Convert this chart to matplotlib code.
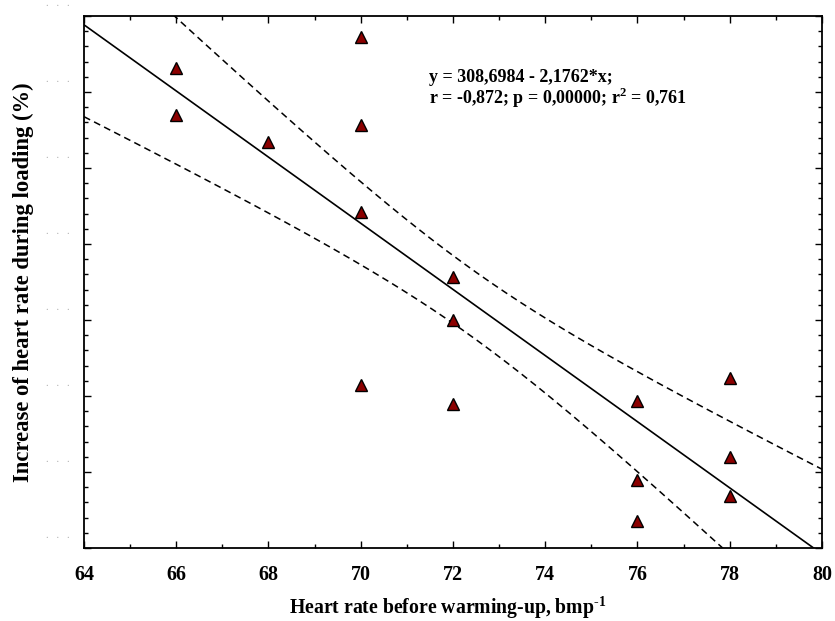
import numpy as np
import matplotlib
matplotlib.use("Agg")
import matplotlib.pyplot as plt
from matplotlib.ticker import MultipleLocator
from matplotlib.transforms import ScaledTranslation

# ---------- data ----------
hr_before = [66, 66, 68, 70, 70, 70, 70, 72, 72, 72, 76, 76, 76, 78, 78, 78]
hr_increase = [166.6, 163.5, 161.7, 168.6, 162.8, 157.1, 145.7,
               152.8, 150.0, 144.5, 144.7, 139.5, 136.8, 146.2, 141.0, 138.4]

# regression as reported by the stats package
intercept = 308.6984
slope = -2.1762
eq_text = "y = 308,6984 - 2,1762*x;"
stat_text = r"r = -0,872; p = 0,00000; r$^{\text{2}}$ = 0,761"

# 95% confidence band parameters (residual SE, n, x mean, Sxx)
ci_s = 4.13
ci_n = 16
ci_xmean = 72.375
ci_sxx = 174.0
t_crit = 2.145

x_ticks = [64, 66, 68, 70, 72, 74, 76, 78, 80]
y_ticks = [135, 140, 145, 150, 155, 160, 165, 170]

plt.rcParams['font.family'] = ['Liberation Serif', 'DejaVu Serif']
plt.rcParams['mathtext.fontset'] = 'custom'
plt.rcParams['mathtext.bf'] = 'Liberation Serif:bold'
plt.rcParams['mathtext.rm'] = 'Liberation Serif:bold'

x = np.array(hr_before, dtype=float)
y = np.array(hr_increase, dtype=float)

# ---------- regression line + band ----------
xs = np.linspace(64, 80, 200)
fit = intercept + slope * xs
half = t_crit * ci_s * np.sqrt(1.0 / ci_n + (xs - ci_xmean) ** 2 / ci_sxx)

# ---------- plotting ----------
fig = plt.figure(figsize=(8.35, 6.21), dpi=100)
ax = fig.add_axes([0.1006, 0.1176, 0.8838, 0.8566])

dash = (0, (4.5, 2.9))
ax.plot(xs, fit, color='black', lw=1.2)
ax.plot(xs, fit + half, color='black', lw=1.1, ls=dash)
ax.plot(xs, fit - half, color='black', lw=1.1, ls=dash)
ax.plot(x, y, ls='none', marker='^', ms=9, mfc='#8b0000', mec='black', mew=1.0)

ax.set_xlim(64, 80)
ax.set_ylim(135, 170)
ax.set_xticks(x_ticks)
ax.set_yticks(y_ticks)
ax.xaxis.set_minor_locator(MultipleLocator(1))
ax.yaxis.set_minor_locator(MultipleLocator(1))
ax.tick_params(which='both', direction='in', top=True, right=True, width=1.0)
ax.tick_params(which='major', length=5)
ax.tick_params(which='minor', length=3)
ax.tick_params(axis='x', labelsize=14.5, pad=12)
for lab in ax.get_xticklabels():
    lab.set_fontweight('bold')

# y tick labels are only faint dots
ax.set_yticklabels([".   .   ."] * len(y_ticks), fontsize=7.5, color='#a8a8a8')
ax.tick_params(axis='y', pad=10)
shift = ScaledTranslation(0, 10 / 100, fig.dpi_scale_trans)
for lab in ax.get_yticklabels():
    lab.set_verticalalignment('baseline')
    lab.set_transform(lab.get_transform() + shift)

for sp in ax.spines.values():
    sp.set_linewidth(1.3)

W, H = 835, 621
fig.text(429 / W, 1 - 77 / H, eq_text, fontsize=13, fontweight='bold', va='center')
fig.text(429 / W, 1 - 98 / H, stat_text, fontsize=13, fontweight='bold', va='center')

ax.set_xlabel(r"Heart rate before warming-up, bmp$^{\text{-1}}$",
              fontsize=14.2, fontweight='bold', va='center')
ax.xaxis.set_label_coords(0.493, -0.112)
ax.set_ylabel("Increase of heart rate during loading (%)",
              fontsize=16.3, fontweight='bold', va='center')
ax.yaxis.set_label_coords(-0.0827, 0.5)

fig.savefig("out.png", dpi=100)
